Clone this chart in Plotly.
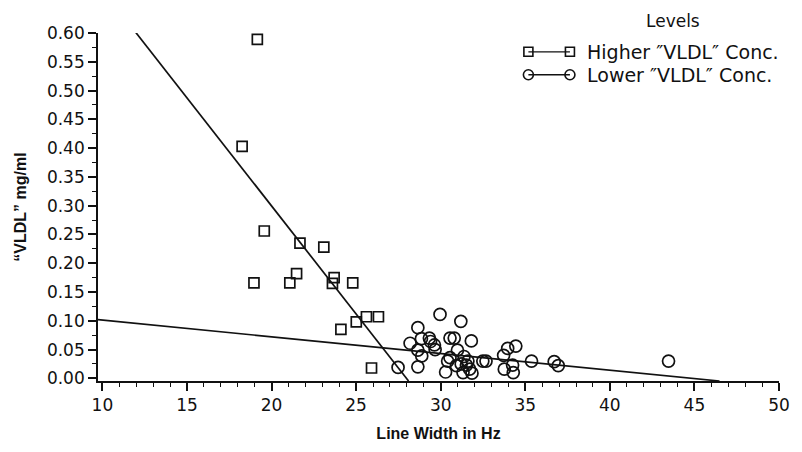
import plotly.graph_objects as go

# ---- data ----
high_x = [19.16, 18.26, 19.57, 21.68, 23.09, 18.96, 21.48, 21.08, 23.70, 23.60, 24.80, 25.01, 24.10, 25.61, 26.32, 25.91]
high_y = [0.589, 0.403, 0.256, 0.235, 0.228, 0.166, 0.182, 0.166, 0.175, 0.165, 0.166, 0.098, 0.085, 0.107, 0.107, 0.018]

low_x = [27.48, 28.65, 29.96, 31.19, 28.19, 28.86, 29.33, 29.63, 29.40, 30.55, 30.80, 31.81,
         28.65, 28.88, 29.67, 30.99, 30.55, 31.38, 30.41, 28.65, 30.29, 30.93, 31.32, 31.52,
         31.71, 31.85, 32.49, 32.68, 33.76, 33.72, 33.96, 34.44, 34.25, 34.29, 35.37, 36.71,
         36.95, 43.47, 31.61, 31.21]
low_y = [0.019, 0.088, 0.111, 0.099, 0.061, 0.069, 0.070, 0.058, 0.064, 0.070, 0.070, 0.065,
         0.049, 0.039, 0.050, 0.049, 0.036, 0.038, 0.030, 0.020, 0.011, 0.022, 0.010, 0.023,
         0.016, 0.009, 0.030, 0.030, 0.016, 0.040, 0.052, 0.056, 0.023, 0.010, 0.030, 0.029,
         0.022, 0.030, 0.030, 0.025]

# fitted lines (end points)
fit_high_x = [11.76, 28.10]
fit_high_y = [0.609, -0.0046]
fit_low_x = [9.74, 46.48]
fit_low_y = [0.102, -0.0046]

legend_names = ["Higher \u2033VLDL\u2033 Conc.", "Lower \u2033VLDL\u2033 Conc."]
legend_title = "Levels"
x_title = "Line Width in Hz"
y_title = "\u201cVLDL\u201d mg/ml"

FONT = "DejaVu Sans"
BFONT = "Liberation Sans"
INK = "#111111"

fig = go.Figure()

fig.add_trace(go.Scatter(x=fit_high_x, y=fit_high_y, mode="lines",
                         line=dict(color=INK, width=1.7), showlegend=False, hoverinfo="skip"))
fig.add_trace(go.Scatter(x=fit_low_x, y=fit_low_y, mode="lines",
                         line=dict(color=INK, width=1.7), showlegend=False, hoverinfo="skip"))
fig.add_trace(go.Scatter(x=high_x, y=high_y, mode="markers", name=legend_names[0],
                         marker=dict(symbol="square-open", size=10, color=INK, line=dict(width=1.7)),
                         showlegend=False))
fig.add_trace(go.Scatter(x=low_x, y=low_y, mode="markers", name=legend_names[1],
                         marker=dict(symbol="circle-open", size=12, color=INK, line=dict(width=1.7)),
                         showlegend=False))

# custom legend keys (marker at each end of a short line) on an overlay axis in paper units
key_x = [0.632, 0.693]
key_rows = [0.946, 0.880]
symbols = ["square-open", "circle-open"]
sizes = [9, 10]
for row, sym, sz in zip(key_rows, symbols, sizes):
    fig.add_trace(go.Scatter(x=key_x, y=[row, row], mode="lines+markers", xaxis="x2", yaxis="y2",
                             line=dict(color=INK, width=1.3),
                             marker=dict(symbol=sym, size=sz, color=INK, line=dict(width=1.6)),
                             showlegend=False, hoverinfo="skip", cliponaxis=False))
for row, name in zip(key_rows, legend_names):
    fig.add_annotation(x=0.7157, y=row, xref="paper", yref="paper", text=name, showarrow=False,
                       xanchor="left", yanchor="middle", font=dict(family=FONT, size=19, color=INK))
fig.add_annotation(x=0.844, y=1.069, xref="paper", yref="paper", text=legend_title, showarrow=False,
                   xanchor="center", yanchor="top", font=dict(family=FONT, size=17, color=INK))

axis_common = dict(showline=True, linecolor=INK, linewidth=1.7, ticks="outside", ticklen=8,
                   tickwidth=1.5, tickcolor=INK, showgrid=False, zeroline=False,
                   tickfont=dict(family=FONT, size=17, color=INK))

# the page body adds an 8px offset, so the figure is 8px smaller and margins shifted
fig.update_layout(
    width=794, height=444,
    margin=dict(l=89, r=19, t=25, b=66),
    paper_bgcolor="white", plot_bgcolor="white",
    xaxis=dict(range=[9.74, 50], tickmode="linear", tick0=10, dtick=5,
               minor=dict(dtick=1, tick0=10, ticks="outside", ticklen=4, tickwidth=1.2, tickcolor=INK, showgrid=False),
               title=dict(text="<b>" + x_title + "</b>", font=dict(family=BFONT, size=16, color=INK), standoff=14),
               **axis_common),
    yaxis=dict(range=[-0.0046, 0.60], tickmode="linear", tick0=0, dtick=0.05, tickformat=".2f",
               minor=dict(dtick=0.025, tick0=0, ticks="outside", ticklen=4, tickwidth=1.2, tickcolor=INK, showgrid=False),
               title=dict(text="<b>" + y_title + "</b>", font=dict(family=BFONT, size=16, color=INK), standoff=16),
               **axis_common),
    xaxis2=dict(range=[0, 1], overlaying="x", visible=False, fixedrange=True),
    yaxis2=dict(range=[0, 1], overlaying="y", visible=False, fixedrange=True),
    showlegend=False,
)

fig.write_html("out.html")
